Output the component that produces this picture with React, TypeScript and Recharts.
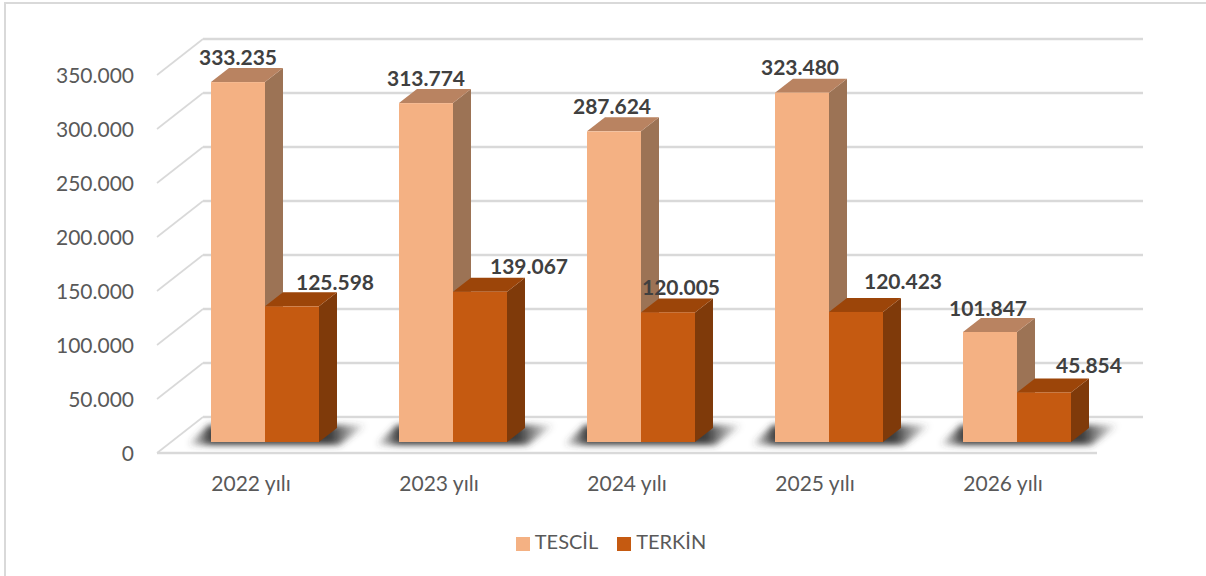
import { Bar, BarChart, CartesianGrid, LabelList, Legend, XAxis, YAxis } from 'recharts';

const years = ['2022 yılı', '2023 yılı', '2024 yılı', '2025 yılı', '2026 yılı'];
const tescil = [333235, 313774, 287624, 323480, 101847];
const terkin = [125598, 139067, 120005, 120423, 45854];
const yTicks = [0, 50000, 100000, 150000, 200000, 250000, 300000, 350000];

// hand nudges for the value labels, relative to the bar's front face
const tescilNudge = [[0, -26], [0, -26], [-2, -26], [-2, -26], [-2, -25]];
const terkinNudge = [[43, -25], [49, -26], [13, -26], [47, -31], [45, -28]];

const data = years.map((year, i) => ({ year, tescil: tescil[i], terkin: terkin[i] }));

const FONT = 'Lato, sans-serif';
// floor depth of the fake 3D box, and where the bars stand on it
const WALL_DX = 46;
const WALL_DY = 36;
const BAR_DX = 14;
const BAR_DY = 11;
const SIDE_DX = 18;
const SIDE_DY = 14;

const fmt = (v: number) => String(v).replace(/\B(?=(\d{3})+$)/g, '.');

const Box3D = ({ x, y, width, height, front, side, top, shadow }: any) => {
  const l = x + BAR_DX;
  const r = l + width;
  const t = y - BAR_DY;
  const b = t + height;
  return (
    <g>
      {shadow && (
        <polygon
          points={`${l - 24},${b + 3} ${l - 2},${b - 17} ${l + width * 2 + 48},${b - 17} ${l + width * 2 + 20},${b + 3}`}
          fill="url(#floorShadow)"
          filter="url(#shadowBlur)"
        />
      )}
      <polygon points={`${r},${t} ${r + SIDE_DX},${t - SIDE_DY} ${r + SIDE_DX},${b - SIDE_DY} ${r},${b}`} fill={side} />
      <polygon points={`${l},${t} ${l + SIDE_DX},${t - SIDE_DY} ${r + SIDE_DX},${t - SIDE_DY} ${r},${t}`} fill={top} />
      <rect x={l} y={t} width={width} height={height} fill={front} />
    </g>
  );
};

const wallLine = ({ x1, y1, x2, y2 }: any) => (
  <g key={`wall-${y1}`}>
    <line x1={x1} y1={y1} x2={x1 + WALL_DX} y2={y1 - WALL_DY} stroke="#d9d9d9" strokeWidth={1.6} />
    <line x1={x1 + WALL_DX} y1={y1 - WALL_DY} x2={x2 + WALL_DX} y2={y2 - WALL_DY} stroke="#d9d9d9" strokeWidth={2.6} />
  </g>
);

const valueLabel = (nudge: number[][]) => ({ x, y, width, value, index }: any) => (
  <text
    x={x + BAR_DX + width / 2 + nudge[index][0]}
    y={y - BAR_DY + nudge[index][1]}
    textAnchor="middle"
    dominantBaseline="central"
    fontFamily={FONT}
    fontSize={21}
    fontWeight={700}
    fill="#404040"
  >
    {fmt(value)}
  </text>
);

export default function App() {
  return (
    <div style={{ position: 'absolute', left: 0, top: 0, width: 1206, height: 576, background: '#fff' }}>
      <div style={{ position: 'absolute', left: 4, top: 2, width: 1300, height: 700, border: '2px solid #d9d9d9' }} />
      <div style={{ position: 'absolute', left: 0, top: 0, width: 1206, height: 576, overflow: 'hidden' }}>
        <BarChart
          width={1206}
          height={576}
          data={data}
          barSize={54}
          barGap={0}
          margin={{ top: 75, right: 109, bottom: 17, left: 0 }}
        >
          <defs>
            <linearGradient id="floorShadow" x1="0" y1="0" x2="1" y2="0">
              <stop offset="0" stopColor="#444" stopOpacity={0} />
              <stop offset="0.13" stopColor="#333" stopOpacity={0.95} />
              <stop offset="0.8" stopColor="#333" stopOpacity={0.95} />
              <stop offset="1" stopColor="#444" stopOpacity={0} />
            </linearGradient>
            <filter id="shadowBlur" x="-10%" y="-30%" width="120%" height="160%">
              <feGaussianBlur stdDeviation="3" />
            </filter>
          </defs>
          <CartesianGrid vertical={false} horizontal={wallLine} stroke="#d9d9d9" />
          <XAxis
            dataKey="year"
            height={76}
            axisLine={{ stroke: '#d9d9d9', strokeWidth: 2.6 }}
            tickLine={false}
            tickMargin={17}
            tick={{ fontFamily: FONT, fontSize: 21, fill: '#595959' }}
          />
          <YAxis
            width={157}
            domain={[0, 350000]}
            ticks={yTicks}
            axisLine={false}
            tickLine={false}
            tickMargin={17}
            tickFormatter={fmt}
            tick={{ fontFamily: FONT, fontSize: 21, fill: '#595959', dy: 1 }}
          />
          <Legend
            verticalAlign="bottom"
            height={30}
            iconType="square"
            iconSize={14}
            itemSorter={null}
            wrapperStyle={{ left: 0, width: 1241, fontFamily: FONT, fontSize: 20 }}
            formatter={(value) => <span style={{ color: '#595959', marginLeft: 1, marginRight: 9 }}>{value}</span>}
          />
          <Bar
            dataKey="tescil"
            name="TESCİL"
            fill="#F4B183"
            isAnimationActive={false}
            shape={(p: any) => <Box3D {...p} front="#F4B183" side="#9C7355" top="#B98361" shadow />}
          >
            <LabelList dataKey="tescil" content={valueLabel(tescilNudge)} />
          </Bar>
          <Bar
            dataKey="terkin"
            name="TERKİN"
            fill="#C55A11"
            isAnimationActive={false}
            shape={(p: any) => <Box3D {...p} front="#C55A11" side="#7F3A0A" top="#9C4509" />}
          >
            <LabelList dataKey="terkin" content={valueLabel(terkinNudge)} />
          </Bar>
        </BarChart>
      </div>
    </div>
  );
}
